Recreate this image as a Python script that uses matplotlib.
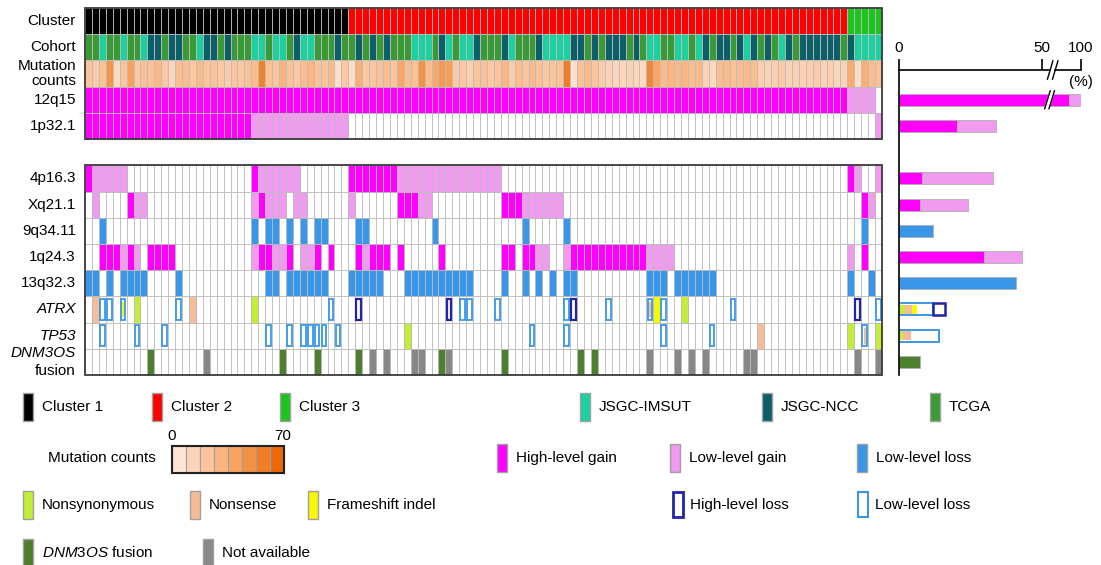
import numpy as np
import matplotlib
matplotlib.use('Agg')
import matplotlib.pyplot as plt
from matplotlib.colors import LinearSegmentedColormap

plt.rcParams.update({'font.family': ['Liberation Sans', 'DejaVu Sans'], 'font.size': 11,
                     'mathtext.fontset': 'custom', 'mathtext.rm': 'Liberation Sans',
                     'mathtext.it': 'Liberation Sans:italic'})

W, H = 1101, 565
N = 115


def R(a, b):
    # inclusive run of sample indices
    return list(range(a, b + 1))


# ---------------- sample annotations ----------------
cluster_sizes = [38, 72, 5]
# G = TCGA, I = JSGC-IMSUT, N = JSGC-NCC
cohort = ('GGIGGIGGIN' 'NGNNGGINNG' 'NGGGIIGIIG' 'NIIGGGNG'
          'GNGNGNGGGI' 'IIGNIGIING' 'GGNIGGGNII' 'IINNGNGNNN'
          'GNGIIGGIIG' 'INGNNGNING' 'NGINGNNNNN' 'NG'
          'NIIII')
mut_counts = [22, 18, 24, 48, 10, 22, 42, 20, 25, 24, 28, 20, 12, 25, 26, 20, 28, 22, 24, 20,
              18, 22, 20, 24, 26, 58, 24, 22, 32, 24, 20, 26, 30, 24, 22, 28, 6, 20,
              8, 34, 20, 22, 24, 26, 22, 40, 26, 24, 50, 26, 38, 46, 44, 18, 20, 16, 22, 24,
              20, 22, 30, 18, 26, 22, 28, 24, 20, 22, 24, 60, 6, 24, 28, 22, 18, 14, 12, 12,
              14, 12, 8, 56, 40, 28, 30, 28, 30, 26, 28, 14, 10, 26, 28, 24, 26, 28, 26, 16,
              14, 16, 18, 14, 16, 14, 16, 18, 14, 16, 12, 14,
              36, 8, 34, 26, 24]

# ---------------- copy-number events (sample indices) ----------------
gain_high = {
    '12q15': R(0, 109),
    '1p32.1': R(0, 23),
    '4p16.3': [0, 24] + R(38, 44) + [110],
    'Xq21.1': [6, 25, 45, 46, 47, 60, 61, 62, 112],
    '1q24.3': [2, 3, 4, 6, 9, 10, 11, 12, 25, 26, 29, 33, 35, 39, 41, 42, 43, 45, 51,
               60, 61, 63, 64] + R(70, 80) + [112],
}
gain_low = {
    '12q15': R(110, 113),
    '1p32.1': R(24, 37) + [114],
    '4p16.3': R(1, 5) + R(25, 30) + R(45, 59) + [111, 114],
    'Xq21.1': [1, 7, 8, 24, 26, 27, 28, 30, 31, 38, 48, 49] + R(63, 68) + [113],
    '1q24.3': [5, 7, 24, 27, 28, 31, 32, 40, 65, 66, 69] + R(81, 84) + [110],
}
loss_low = {
    '9q34.11': [2, 24, 26, 27, 29, 31, 33, 34, 39, 40, 50, 63, 69, 112],
    '13q32.3': [0, 1, 3, 5, 6, 7, 8, 13, 26, 27] + R(29, 34) + R(38, 42) + R(46, 55)
               + [60, 63, 65, 67, 69, 70, 81, 82, 83] + R(85, 90) + [110, 113],
}

# ---------------- gene alterations ----------------
atrx_nonsyn = [7, 24, 86]
atrx_nonsense = [1, 15, 81]
atrx_frameshift = [5, 82]
atrx_low_loss = [2, 3, 5, 13, 35, 54, 55, 59, 69, 75, 81, 83, 93, 114]
atrx_high_loss = [39, 52, 70, 111]
tp53_nonsyn = [46, 110, 114]
tp53_nonsense = [97, 112]
tp53_frameshift = []
tp53_low_loss = [2, 7, 11, 26, 29, 31, 32, 33, 34, 36, 64, 69, 83, 90, 112]
tp53_high_loss = []
dnm3os_fusion = [9, 28, 33, 39, 51, 60, 71, 73]
dnm3os_na = [17, 41, 43, 47, 48, 52, 81, 85, 87, 89, 95, 96, 111, 114]

# ---------------- frequency bars (%) ----------------
bar_gain = {'12q15': (84, 15.5), '1p32.1': (20.4, 13.6), '4p16.3': (8.2, 24.8),
            'Xq21.1': (7.3, 16.8), '1q24.3': (29.7, 13.3)}
bar_loss = {'9q34.11': 11.9, '13q32.3': 41.0}
bar_atrx = [2.1, 2.3, 2.0, 5.6, 4.1]   # nonsyn, nonsense, frameshift, low loss, high loss
bar_tp53 = [1.5, 2.6, 0.0, 9.9, 0.0]
bar_dnm3os = 7.3

# ---------------- colours ----------------
CL = ['#000000', '#ff0000', '#1ec31e']
COH = {'I': '#1dd0a0', 'N': '#0b5f69', 'G': '#3a9a35'}
HIGH_GAIN, LOW_GAIN = '#ff00ff', '#f09bf0'
LOW_LOSS, HIGH_LOSS = '#3a96e8', '#2323a8'
NONSYN, NONSENSE, FS = '#c2ee3a', '#f4bc98', '#f8f800'
FUSION, NA = '#4e7f2e', '#888888'
GRID, FRAME = '#bcbcbc', '#3a3a3a'
mut_cmap = LinearSegmentedColormap.from_list(
    'mut', [(0, '#fde9dc'), (0.3, '#fbc6a0'), (0.6, '#f8a25f'), (1, '#ea6a0a')])

ROW = {'Cluster': 0, 'Cohort': 1, 'Mutation counts': 2, '12q15': 3, '1p32.1': 4,
       '4p16.3': 6, 'Xq21.1': 7, '9q34.11': 8, '1q24.3': 9, '13q32.3': 10,
       'ATRX': 11, 'TP53': 12, 'DNM3OS': 13}

fig = plt.figure(figsize=(W / 100, H / 100), dpi=100)


def px_axes(x0, y0, x1, y1):
    return fig.add_axes([x0 / W, 1 - y1 / H, (x1 - x0) / W, (y1 - y0) / H])


ax = px_axes(85, 8, 882, 375)
ax.set_xlim(0, N)
ax.set_ylim(14, 0)
ax.set_axis_off()


def cells(row, idx, color):
    idx = np.asarray(idx)
    if idx.size == 0:
        return
    ax.bar(idx, 1, bottom=row, width=1, align='edge', color=color,
           edgecolor=GRID, linewidth=0.6)


def boxes(row, idx, color, lw):
    if len(idx) == 0:
        return
    ax.bar(np.asarray(idx) + 0.5, 0.8, bottom=row + 0.1, width=0.66,
           facecolor='white', edgecolor=color, linewidth=lw)


def inner(row, idx, color):
    if len(idx) == 0:
        return
    ax.bar(np.asarray(idx) + 0.5, 0.6, bottom=row + 0.2, width=0.3,
           color=color, linewidth=0)


samples = np.arange(N)
cells(ROW['Cluster'], samples, np.repeat(CL, cluster_sizes))
cells(ROW['Cohort'], samples, [COH[c] for c in cohort])
cells(ROW['Mutation counts'], samples, mut_cmap(np.array(mut_counts) / 70))
for name in ['12q15', '1p32.1', '4p16.3', 'Xq21.1', '9q34.11', '1q24.3', '13q32.3',
             'ATRX', 'TP53', 'DNM3OS']:
    cells(ROW[name], samples, 'white')
for name in gain_high:
    cells(ROW[name], gain_high[name], HIGH_GAIN)
    cells(ROW[name], gain_low[name], LOW_GAIN)
for name in loss_low:
    cells(ROW[name], loss_low[name], LOW_LOSS)


def gene_row(row, nonsyn, nonsense, fs, low, high):
    lost = set(low) | set(high)
    muts = [(nonsyn, NONSYN), (nonsense, NONSENSE), (fs, FS)]
    for idx, col in muts:
        cells(row, [i for i in idx if i not in lost], col)
    boxes(row, low, LOW_LOSS, 1.3)
    boxes(row, high, HIGH_LOSS, 1.6)
    for idx, col in muts:
        inner(row, [i for i in idx if i in lost], col)


gene_row(ROW['ATRX'], atrx_nonsyn, atrx_nonsense, atrx_frameshift, atrx_low_loss, atrx_high_loss)
gene_row(ROW['TP53'], tp53_nonsyn, tp53_nonsense, tp53_frameshift, tp53_low_loss, tp53_high_loss)
cells(ROW['DNM3OS'], dnm3os_fusion, FUSION)
cells(ROW['DNM3OS'], dnm3os_na, NA)

for top, h in [(0, 5), (6, 8)]:
    ax.add_patch(plt.Rectangle((0, top), N, h, fill=False, ec=FRAME, lw=1.3, clip_on=False))

# row labels
LX = -1.3
for name in ['Cluster', 'Cohort', '12q15', '1p32.1', '4p16.3', 'Xq21.1', '9q34.11',
             '1q24.3', '13q32.3']:
    ax.text(LX, ROW[name] + 0.5, name, ha='right', va='center')
ax.text(LX, ROW['Mutation counts'] + 0.5, 'Mutation\ncounts', ha='right', va='center',
        multialignment='right', linespacing=1.1)
ax.text(LX, ROW['ATRX'] + 0.5, 'ATRX', ha='right', va='center', style='italic')
ax.text(LX, ROW['TP53'] + 0.5, 'TP53', ha='right', va='center', style='italic')
ax.text(LX, ROW['DNM3OS'] + 0.17, 'DNM3OS', ha='right', va='center', style='italic')
ax.text(LX, ROW['DNM3OS'] + 0.83, 'fusion', ha='right', va='center')

# ---------------- frequency bar chart ----------------
K = 0.273


def fwd(x):
    x = np.asarray(x, float)
    return np.where(x <= 50, x, 50 + (x - 50) * K)


def inv(y):
    y = np.asarray(y, float)
    return np.where(y <= 50, y, 50 + (y - 50) / K)


bx = px_axes(899, 70, 1081, 375)
bx.set_xscale('function', functions=(fwd, inv))
bx.set_xlim(0, 100)
bx.set_ylim(14, (70 - 8) / (367 / 14))
for s in ['top', 'right', 'bottom']:
    bx.spines[s].set_visible(False)
bx.spines['left'].set_linewidth(1.2)
bx.xaxis.tick_top()
bx.set_xticks([0, 50, 100])
bx.xaxis.set_minor_locator(matplotlib.ticker.NullLocator())
bx.set_xticklabels(['0', '50', '100'])
bx.tick_params(axis='x', length=8, width=1.2, pad=3, labelsize=11)
bx.set_yticks([])
xt = bx.get_xaxis_transform()
bx.plot([0, 60.5], [1, 1], transform=xt, color='k', lw=1.2, clip_on=False)
bx.plot([67, 100], [1, 1], transform=xt, color='k', lw=1.2, clip_on=False)
for xb in [60.5, 67]:
    bx.plot([xb - 3.5, xb + 3.5], [0.97, 1.03], transform=xt, color='k', lw=1.0, clip_on=False)
bx.text(100, 0.962, '(%)', transform=xt, ha='center', va='center')

BH = 0.46
BEDGE = dict(edgecolor='#b0b0b0', linewidth=0.6)
for name, (hi, lo) in bar_gain.items():
    y = ROW[name] + 0.5
    bx.barh(y, hi, left=0, height=BH, color=HIGH_GAIN, **BEDGE)
    bx.barh(y, lo, left=hi, height=BH, color=LOW_GAIN, **BEDGE)
for name, v in bar_loss.items():
    bx.barh(ROW[name] + 0.5, v, left=0, height=BH, color=LOW_LOSS, **BEDGE)
bx.barh(ROW['DNM3OS'] + 0.5, bar_dnm3os, left=0, height=BH, color=FUSION, **BEDGE)

for name, seg in [('ATRX', bar_atrx), ('TP53', bar_tp53)]:
    y = ROW[name] + 0.5
    lefts = np.concatenate([[0], np.cumsum(seg)[:-1]])
    low_end = sum(seg[:4])
    bx.barh(y, low_end, left=0, height=BH, facecolor='white', edgecolor=LOW_LOSS, linewidth=1.4)
    bx.barh(y, seg[:3], left=lefts[:3], height=BH - 0.1, color=[NONSYN, NONSENSE, FS], linewidth=0)
    if seg[4] > 0:
        bx.barh(y, seg[4], left=low_end, height=BH, facecolor='white', edgecolor=HIGH_LOSS,
                linewidth=1.8)

# break marks on the 12q15 bar
yb = ROW['12q15'] + 0.5
bx.fill([53.5, 60.5, 66, 59], [yb + 0.32, yb - 0.32, yb - 0.32, yb + 0.32], color='white', zorder=3)
for xb in [57, 62.5]:
    bx.plot([xb - 3.5, xb + 3.5], [yb + 0.34, yb - 0.34], color='k', lw=1.0, zorder=4)

# ---------------- legend ----------------
lg = px_axes(0, 380, W, H)
lg.set_xlim(0, W)
lg.set_ylim(H, 380)
lg.set_axis_off()


def swatch(x, y, color, label, dx=19):
    lg.bar(x + 5, 28, bottom=y - 14, width=10, color=color, edgecolor='#a0a0a0', linewidth=1)
    lg.text(x + dx, y, label, va='center', fontsize=11)


def outline_swatch(x, y, color, lw, label):
    lg.bar(x + 6, 25, bottom=y - 12.5, width=10, facecolor='white', edgecolor=color, linewidth=lw)
    lg.text(x + 18, y, label, va='center', fontsize=11)


y1, y2, y3, y4 = 407, 458, 505, 553
swatch(23, y1, CL[0], 'Cluster 1')
swatch(152, y1, CL[1], 'Cluster 2')
swatch(280, y1, CL[2], 'Cluster 3')
swatch(580, y1, COH['I'], 'JSGC-IMSUT')
swatch(762, y1, COH['N'], 'JSGC-NCC')
swatch(930, y1, COH['G'], 'TCGA')

lg.text(48, y2, 'Mutation counts', va='center', fontsize=11)
steps = np.arange(8)
lg.bar(172 + 14 * steps + 7, 27, bottom=y2 - 12, width=14,
       color=mut_cmap(0.04 + 0.96 * steps / 7), edgecolor='#a0a0a0', linewidth=0.8)
lg.add_patch(plt.Rectangle((172, y2 - 12), 112, 27, fill=False, ec='#222222', lw=1.5))
lg.text(172, y2 - 22, '0', ha='center', va='center', fontsize=11)
lg.text(283, y2 - 22, '70', ha='center', va='center', fontsize=11)
swatch(497, y2, HIGH_GAIN, 'High-level gain')
swatch(670, y2, LOW_GAIN, 'Low-level gain')
swatch(857, y2, LOW_LOSS, 'Low-level loss')

swatch(23, y3, NONSYN, 'Nonsynonymous')
swatch(190, y3, NONSENSE, 'Nonsense')
swatch(308, y3, FS, 'Frameshift indel')
outline_swatch(672, y3, HIGH_LOSS, 2.0, 'High-level loss')
outline_swatch(857, y3, LOW_LOSS, 1.5, 'Low-level loss')

swatch(23, y4, FUSION, r'$\mathit{DNM3OS}$ fusion')
swatch(203, y4, NA, 'Not available')

fig.savefig('out.png', dpi=100)
